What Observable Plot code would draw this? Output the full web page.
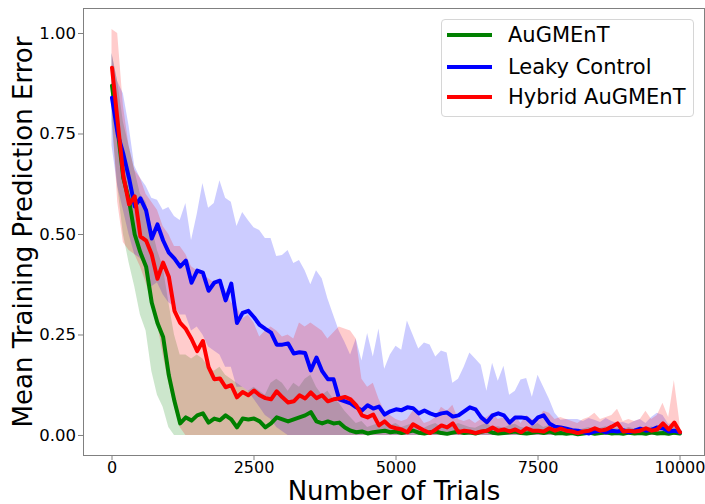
<!DOCTYPE html>
<html><head><meta charset="utf-8">
<script src="https://cdn.jsdelivr.net/npm/d3@7"></script>
<script src="https://cdn.jsdelivr.net/npm/@observablehq/plot@0.6"></script>
<style>
html,body{margin:0;padding:0;background:#fff;}
#chart{position:relative;width:705px;height:504px;font-family:"DejaVu Sans",sans-serif;}
#legend{position:absolute;left:441px;top:19px;width:253px;height:98px;box-sizing:border-box;border:1px solid #d6d6d6;border-radius:4px;background:rgba(255,255,255,0.8);}
.row{position:absolute;left:0;height:30px;display:flex;align-items:center;font-size:21px;color:#000;white-space:nowrap;}
.sw{display:inline-block;width:45px;height:4px;margin-left:5px;margin-right:16px;}
</style></head><body><div id="chart"></div>
<script>
// ---- data (trial step 100, 0..10000) ----
const seriesNames = ["AuGMEnT", "Leaky Control", "Hybrid AuGMEnT"];
const seriesColors = ["#008000", "#0000ff", "#ff0000"];
const trialStep = 100;
const xTicks = [0, 2500, 5000, 7500, 10000];
const yTicks = [0, 0.25, 0.5, 0.75, 1.0];

const augmentMean = [
 0.87,0.76,0.64,0.585,0.50,0.455,0.42,0.33,0.28,0.245,
 0.15,0.085,0.03,0.045,0.037,0.05,0.055,0.032,0.042,0.038,
 0.05,0.04,0.02,0.042,0.04,0.042,0.035,0.02,0.03,0.045,
 0.04,0.035,0.04,0.045,0.05,0.058,0.035,0.03,0.035,0.03,
 0.032,0.02,0.012,0.008,0.01,0.005,0.008,0.01,0.012,0.008,
 0.01,0.006,0.009,0.012,0.007,0.005,0.008,0.01,0.006,0.004,
 0.007,0.01,0.006,0.008,0.005,0.009,0.012,0.007,0.005,0.006,
 0.008,0.01,0.006,0.005,0.007,0.009,0.006,0.01,0.005,0.006,
 0.004,0.006,0.003,0.005,0.007,0.004,0.006,0.008,0.005,0.006,
 0.004,0.007,0.005,0.006,0.004,0.008,0.005,0.006,0.004,0.007,0.005];
const augmentHi = [
 0.95,0.88,0.78,0.72,0.66,0.60,0.58,0.52,0.46,0.42,
 0.33,0.25,0.2,0.2,0.19,0.2,0.19,0.17,0.16,0.17,
 0.15,0.14,0.13,0.12,0.11,0.12,0.11,0.10,0.13,0.14,
 0.13,0.11,0.13,0.12,0.14,0.15,0.12,0.10,0.11,0.09,
 0.08,0.06,0.045,0.03,0.035,0.02,0.025,0.03,0.035,0.025,
 0.03,0.02,0.025,0.03,0.02,0.018,0.025,0.03,0.02,0.015,
 0.022,0.03,0.025,0.02,0.018,0.025,0.03,0.02,0.022,0.018,
 0.025,0.028,0.02,0.018,0.022,0.03,0.02,0.025,0.018,0.02,
 0.015,0.018,0.012,0.016,0.02,0.014,0.018,0.022,0.016,0.018,
 0.014,0.02,0.016,0.018,0.014,0.022,0.016,0.018,0.014,0.02,0.016];
const augmentLo = [
 0.78,0.62,0.5,0.43,0.37,0.30,0.26,0.16,0.1,0.07,
 0.02,0,0,0,0,0,0,0,0,0,
 0,0,0,0,0,0,0,0,0,0,
 0,0,0,0,0,0,0,0,0,0,
 0,0,0,0,0,0,0,0,0,0,
 0,0,0,0,0,0,0,0,0,0,
 0,0,0,0,0,0,0,0,0,0,
 0,0,0,0,0,0,0,0,0,0,
 0,0,0,0,0,0,0,0,0,0,
 0,0,0,0,0,0,0,0,0,0,0];

const leakyMean = [
 0.84,0.75,0.70,0.64,0.57,0.59,0.56,0.49,0.525,0.485,
 0.455,0.44,0.42,0.435,0.38,0.41,0.405,0.36,0.38,0.385,
 0.336,0.378,0.28,0.305,0.31,0.294,0.275,0.265,0.256,0.226,
 0.226,0.229,0.204,0.207,0.205,0.162,0.194,0.16,0.14,0.14,
 0.09,0.085,0.08,0.07,0.062,0.075,0.067,0.072,0.052,0.06,
 0.065,0.063,0.07,0.068,0.055,0.062,0.055,0.05,0.055,0.057,
 0.047,0.05,0.06,0.07,0.065,0.045,0.033,0.05,0.055,0.05,
 0.032,0.045,0.045,0.043,0.03,0.045,0.05,0.03,0.022,0.02,
 0.017,0.013,0.012,0.008,0.005,0.01,0.012,0.008,0.012,0.01,
 0.013,0.008,0.012,0.017,0.012,0.014,0.02,0.018,0.01,0.012,0.008];
const leakyHi = [
 0.95,0.88,0.85,0.77,0.67,0.64,0.62,0.59,0.585,0.56,
 0.567,0.545,0.535,0.577,0.485,0.55,0.627,0.565,0.577,0.634,
 0.59,0.58,0.52,0.555,0.535,0.517,0.51,0.49,0.49,0.445,
 0.448,0.46,0.428,0.435,0.41,0.375,0.41,0.39,0.34,0.30,
 0.26,0.232,0.2,0.24,0.185,0.254,0.195,0.265,0.165,0.2,
 0.222,0.212,0.285,0.25,0.215,0.23,0.225,0.195,0.21,0.205,
 0.13,0.14,0.17,0.205,0.19,0.175,0.11,0.18,0.135,0.172,
 0.10,0.11,0.138,0.142,0.095,0.15,0.12,0.09,0.055,0.038,
 0.04,0.04,0.04,0.035,0.042,0.038,0.032,0.042,0.035,0.03,
 0.032,0.028,0.035,0.04,0.03,0.045,0.055,0.05,0.028,0.03,0.02];
const leakyLo = [
 0.72,0.62,0.56,0.5,0.45,0.44,0.42,0.37,0.38,0.35,
 0.33,0.32,0.30,0.30,0.26,0.27,0.25,0.22,0.21,0.2,
 0.17,0.17,0.12,0.12,0.11,0.09,0.07,0.05,0.04,0.02,
 0.01,0,0,0,0,0,0,0,0,0,
 0,0,0,0,0,0,0,0,0,0,
 0,0,0,0,0,0,0,0,0,0,
 0,0,0,0,0,0,0,0,0,0,
 0,0,0,0,0,0,0,0,0,0,
 0,0,0,0,0,0,0,0,0,0,
 0,0,0,0,0,0,0,0,0,0,0];

const hybridMean = [
 0.915,0.78,0.645,0.575,0.595,0.495,0.485,0.45,0.39,0.43,
 0.395,0.31,0.28,0.265,0.24,0.21,0.235,0.17,0.14,0.142,
 0.12,0.125,0.095,0.108,0.10,0.112,0.10,0.093,0.09,0.11,
 0.095,0.082,0.085,0.10,0.092,0.107,0.093,0.10,0.085,0.09,
 0.092,0.096,0.09,0.075,0.05,0.045,0.052,0.025,0.035,0.022,
 0.018,0.015,0.008,0.028,0.02,0.012,0.006,0.015,0.025,0.02,
 0.03,0.008,0.012,0.01,0.006,0.01,0.012,0.02,0.012,0.015,
 0.01,0.015,0.008,0.018,0.012,0.012,0.01,0.018,0.012,0.017,
 0.012,0.01,0.006,0.01,0.012,0.018,0.012,0.015,0.022,0.03,
 0.01,0.012,0.01,0.012,0.018,0.012,0.015,0.03,0.015,0.032,0.008];
const hybridHi = [
 1.01,1.0,0.82,0.72,0.66,0.64,0.6,0.58,0.56,0.52,
 0.50,0.47,0.47,0.45,0.42,0.41,0.40,0.39,0.38,0.39,
 0.36,0.33,0.32,0.29,0.30,0.28,0.245,0.26,0.27,0.26,
 0.245,0.25,0.24,0.28,0.27,0.28,0.27,0.26,0.24,0.255,
 0.27,0.265,0.26,0.24,0.14,0.12,0.13,0.09,0.06,0.05,
 0.04,0.035,0.04,0.06,0.05,0.03,0.035,0.045,0.07,0.06,
 0.075,0.04,0.035,0.04,0.03,0.04,0.045,0.055,0.04,0.045,
 0.035,0.05,0.03,0.05,0.04,0.04,0.06,0.055,0.04,0.045,
 0.04,0.035,0.03,0.04,0.045,0.055,0.04,0.045,0.05,0.065,
 0.035,0.04,0.035,0.04,0.06,0.04,0.05,0.08,0.045,0.137,0.03];
const hybridLo = [
 0.82,0.58,0.48,0.46,0.45,0.42,0.38,0.33,0.28,0.2,
 0.13,0.07,0.02,0,0,0,0,0,0,0,
 0,0,0,0,0,0,0,0,0,0,
 0,0,0,0,0,0,0,0,0,0,
 0,0,0,0,0,0,0,0,0,0,
 0,0,0,0,0,0,0,0,0,0,
 0,0,0,0,0,0,0,0,0,0,
 0,0,0,0,0,0,0,0,0,0,
 0,0,0,0,0,0,0,0,0,0,
 0,0,0,0,0,0,0,0,0,0,0];

// ---- assemble ----
const means = [augmentMean, leakyMean, hybridMean];
const his = [augmentHi, leakyHi, hybridHi];
const los = [augmentLo, leakyLo, hybridLo];
[...means, ...his, ...los].forEach((a, k) => { if (a.length !== 101) throw new Error("array " + k + " has length " + a.length); });

const rows = seriesNames.flatMap((name, s) =>
  means[s].map((m, i) => ({series: name, trial: i * trialStep, mean: m, lo: los[s][i], hi: his[s][i]})));

const font = '"DejaVu Sans", sans-serif';
const chart = Plot.plot({
  width: 705, height: 504,
  marginLeft: 83, marginRight: 1, marginTop: 8, marginBottom: 49,
  style: {fontFamily: font, background: "#fff", color: "#000"},
  x: {domain: [-502, 10431]},
  y: {domain: [-0.0498, 1.0622]},
  color: {domain: seriesNames, range: seriesColors},
  marks: [
    Plot.areaY(rows, {x: "trial", y1: "lo", y2: "hi", z: "series", fill: "series", fillOpacity: 0.2}),
    Plot.lineY(rows, {x: "trial", y: "mean", z: "series", stroke: "series", strokeWidth: 4, strokeLinejoin: "round"}),
    Plot.frame({stroke: "#808080"}),
    Plot.axisX({ticks: xTicks, tickFormat: d3.format("d"), tickSize: 5, tickPadding: 1, fontSize: 16, stroke: "#808080", label: null}),
    Plot.axisY({ticks: yTicks, tickFormat: d3.format(".2f"), tickSize: 5, tickPadding: 2.5, fontSize: 16.5, stroke: "#808080", label: null}),
    Plot.text(["Number of Trials"], {frameAnchor: "bottom", lineAnchor: "bottom", dy: 44, fontSize: 26, fill: "#000"}),
    Plot.text(["Mean Training Prediction Error"], {frameAnchor: "left", textAnchor: "middle", lineAnchor: "top", rotate: -90, dx: -70, fontSize: 26, fill: "#000"})
  ]
});
const host = document.getElementById("chart");
host.appendChild(chart);

// legend overlay
const legend = document.createElement("div");
legend.id = "legend";
const rowCenters = [15, 46.7, 76.7];
seriesNames.forEach((name, s) => {
  const r = document.createElement("div");
  r.className = "row";
  r.style.top = (rowCenters[s] - 15) + "px";
  const sw = document.createElement("span");
  sw.className = "sw";
  sw.style.background = seriesColors[s];
  const t = document.createElement("span");
  t.textContent = name;
  r.appendChild(sw); r.appendChild(t);
  legend.appendChild(r);
});
host.appendChild(legend);
</script></body></html>
